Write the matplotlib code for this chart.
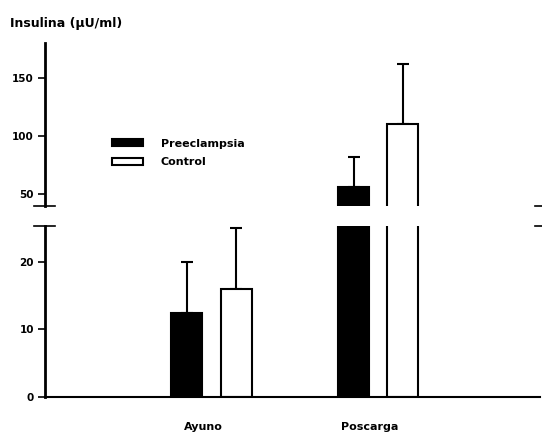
"""
plot.py — Insulina en ayuno y poscarga, preeclampsia vs control (eje Y cortado).
"""

import numpy as np
import matplotlib
matplotlib.use("Agg")
import matplotlib.pyplot as plt

plt.rcParams["font.family"] = ["DejaVu Sans"]
plt.rcParams["font.weight"] = "bold"

categories = ["Ayuno", "Poscarga"]
series_names = ["Preeclampsia", "Control"]
preeclampsia = [12.5, 56]
preeclampsia_err = [7.5, 26]
control = [16, 110]
control_err = [9, 52]

lower_ticks = [0, 10, 20]
upper_ticks = [50, 100, 150]


def draw_bars(ax, x):
    ax.bar(x - 0.148, preeclampsia, width=0.186, color="black", edgecolor="black",
           linewidth=1.5, label=series_names[0], zorder=2)
    ax.bar(x + 0.148, control, width=0.186, color="white", edgecolor="black",
           linewidth=1.5, label=series_names[1], zorder=2)
    ax.errorbar(x - 0.148, preeclampsia, yerr=[np.zeros(len(x)), preeclampsia_err],
                fmt="none", ecolor="black", elinewidth=1.5, capsize=4, capthick=1.5, zorder=1)
    ax.errorbar(x + 0.148, control, yerr=[np.zeros(len(x)), control_err],
                fmt="none", ecolor="black", elinewidth=1.5, capsize=4, capthick=1.5, zorder=1)


fig = plt.figure(figsize=(5.42, 4.36), dpi=100)
ax_lo = fig.add_axes([0.083, 0.0894, 0.913, 0.392])
ax_hi = fig.add_axes([0.083, 0.5275, 0.913, 0.374])

x = np.arange(len(categories))
for ax in (ax_lo, ax_hi):
    draw_bars(ax, x)
    ax.set_xlim(-1.0, 1.97)
    for side in ("top", "right"):
        ax.spines[side].set_visible(False)
    ax.spines["left"].set_linewidth(2)
    ax.tick_params(axis="y", direction="out", length=5, width=1.2, pad=3, labelsize=7.5)

ax_lo.set_ylim(0, 25.3)
ax_lo.set_yticks(lower_ticks)
ax_lo.spines["bottom"].set_linewidth(1.5)
ax_lo.set_xticks(x - 0.05)
ax_lo.set_xticklabels(categories, fontsize=8, fontweight="bold")
ax_lo.tick_params(axis="x", length=0, pad=18)

ax_hi.set_ylim(40, 180)
ax_hi.set_yticks(upper_ticks)
ax_hi.spines["bottom"].set_visible(False)
ax_hi.set_xticks([])

# marcas del corte del eje
for ax, yb in ((ax_hi, 0), (ax_lo, 1)):
    ax.plot([-0.022, 0.02], [yb, yb], transform=ax.transAxes, color="black",
            linewidth=1.2, clip_on=False)
    ax.plot([0.99, 1.005], [yb, yb], transform=ax.transAxes, color="black",
            linewidth=1.2, clip_on=False)

ax_hi.legend(loc="center left", bbox_to_anchor=(0.135, 0.325), frameon=False,
             borderpad=0, borderaxespad=0, handlelength=2.8, handleheight=0.6,
             handletextpad=1.6, labelspacing=0.8, prop={"size": 8, "weight": "bold"})

fig.text(10 / 542, 1 - 24 / 436, "Insulina (\u00b5U/ml)", ha="left", va="center",
         fontsize=9, fontweight="bold")

plt.savefig("out.png", dpi=100)
print("Saved: out.png")
